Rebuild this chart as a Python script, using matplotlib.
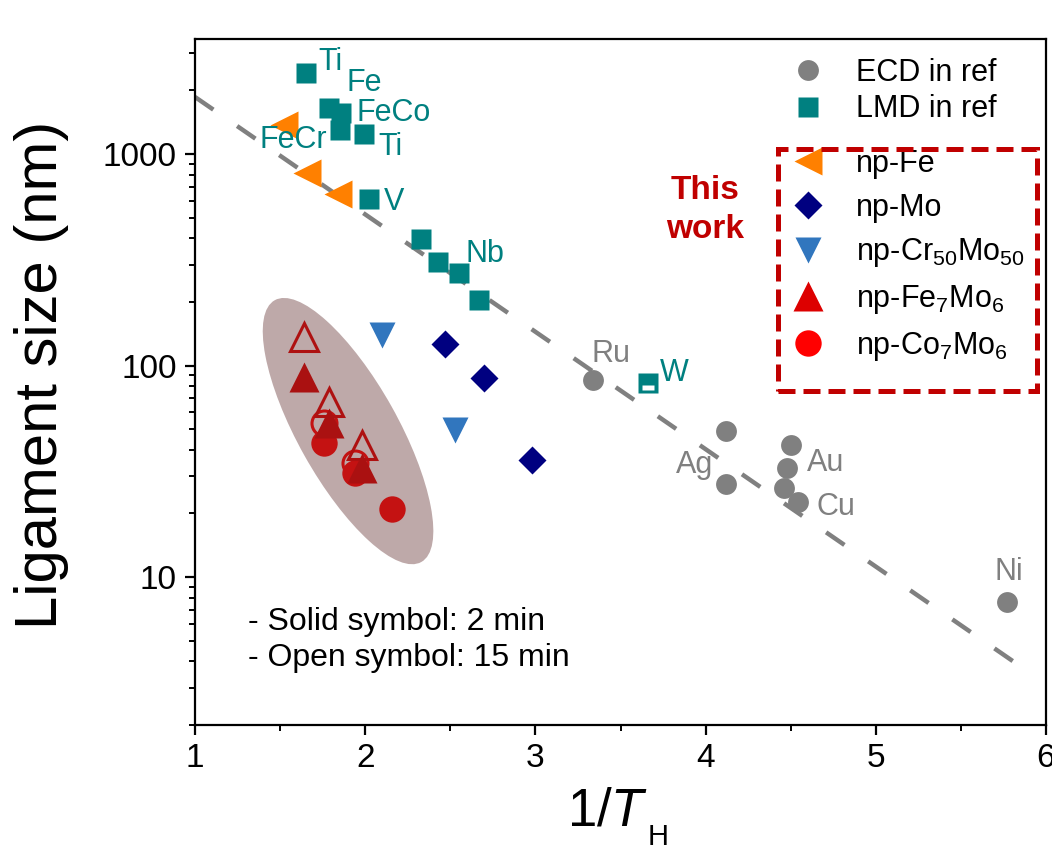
import numpy as np
import matplotlib
matplotlib.use('Agg')
import matplotlib.pyplot as plt
from matplotlib.lines import Line2D
from matplotlib.patches import Ellipse, Rectangle
from matplotlib.path import Path
from matplotlib.transforms import ScaledTranslation
from matplotlib.ticker import LogLocator, NullFormatter, MultipleLocator

plt.rcParams['font.family'] = ['Liberation Sans', 'DejaVu Sans']
plt.rcParams['mathtext.fontset'] = 'custom'
plt.rcParams['mathtext.rm'] = 'Liberation Sans'
plt.rcParams['mathtext.it'] = 'Liberation Sans:italic'

# ECD in ref (grey circles)
ecd_x = [3.34, 4.12, 4.12, 4.50, 4.48, 4.46, 4.54, 5.77]
ecd_y = [85, 49, 27.5, 42, 32.7, 26.4, 22.7, 7.6]
ecd_labels = [(0, 'Ru', (-1, 19), 'left'), (2, 'Ag', (-9, 14), 'right'),
              (4, 'Au', (14, 4), 'left'), (6, 'Cu', (14, -4), 'left'),
              (7, 'Ni', (-9, 22), 'left')]

# LMD in ref (teal squares)
lmd_x = [1.65, 1.79, 1.86, 1.85, 1.99, 2.02, 2.33, 2.43, 2.55, 2.67, 3.66]
lmd_y = [2415, 1650, 1563, 1298, 1243, 613, 396, 308, 274, 204, 82.6]
lmd_labels = [(0, 'Ti', (9, 8), 'left'), (1, 'Fe', (12, 18), 'left'),
              (2, 'FeCo', (11, 0), 'left'), (3, 'FeCr', (-9, -7), 'right'),
              (4, 'Ti', (11, -9), 'left'), (5, 'V', (11, -2), 'left'),
              (8, 'Nb', (5, 14), 'left'), (10, 'W', (9, 7), 'left')]

# this work
fe_x = [1.52, 1.66, 1.84]
fe_y = [1371, 813, 647]
mo_x = [2.47, 2.70, 2.98]
mo_y = [126, 87.4, 35.8]
crmo_x = [2.10, 2.53]
crmo_y = [139, 49.6]
femo_x = [1.64, 1.79, 1.98]
femo_2min = [88.3, 53.5, 32.7]
femo_15min = [136, 67, 42]
como_x = [1.76, 1.94, 2.16]
como_2min = [43, 31, 21]
como_open_x = [1.76, 1.94]
como_15min = [53.5, 34.6]

# guide line
fit_x = [1.0, 5.9]
fit_y = [1860, 3.55]

teal = '#008080'
grey = '#808080'
darkred = '#C00000'

fig = plt.figure(figsize=(10.52, 8.5), dpi=100)
ax = fig.add_axes([0.1854, 0.1471, 0.8089, 0.8071])
ax.set_yscale('log')
ax.set_xlim(1, 6)
ax.set_ylim(2, 3500)

# shaded ellipse around the Fe7Mo6 / Co7Mo6 data
ell = Ellipse((0, 0), 3.0, 1.0, angle=-60.75, facecolor='#BEA9A9', edgecolor='none',
              transform=fig.dpi_scale_trans + ScaledTranslation(1.899, 49, ax.transData),
              zorder=1)
ax.add_patch(ell)

ax.plot(fit_x, fit_y, color=grey, lw=3.2, dashes=(5, 6.5), zorder=2)

ax.plot(ecd_x, ecd_y, 'o', color=grey, ms=15, mec='none', zorder=3)
ax.plot(lmd_x, lmd_y, 's', color=teal, ms=14, mec='none', zorder=3)
# W point has a white bar inside
bar = Path([(0.5, 0.5), (-0.33, -0.38), (0.33, -0.38), (0.33, -0.1), (-0.33, -0.1), (-0.33, -0.38)],
           [Path.MOVETO, Path.MOVETO, Path.LINETO, Path.LINETO, Path.LINETO, Path.CLOSEPOLY])
ax.plot(lmd_x[-1:], lmd_y[-1:], marker=bar, color='white', ms=14, mec='none', ls='none', zorder=4)

ax.plot(fe_x, fe_y, '<', color='#FF8000', ms=20, mec='none', zorder=3)
ax.plot(mo_x, mo_y, 'D', color='#000080', ms=14, mec='none', zorder=3)
ax.plot(crmo_x, crmo_y, 'v', color='#3176BE', ms=19, mec='none', zorder=3)

ax.plot(como_open_x, como_15min, 'o', mfc='none', mec='#C41212', mew=2.2, ms=18, zorder=3)
ax.plot(como_x, como_2min, 'o', color='#C41212', ms=19, mec='none', zorder=3)
ax.plot(femo_x, femo_15min, '^', mfc='none', mec='#AE1111', mew=2.2, ms=20, zorder=4)
ax.plot(femo_x, femo_2min, '^', color='#AA1111', ms=22, mec='none', zorder=4)

for i, name, off, ha in lmd_labels:
    ax.annotate(name, (lmd_x[i], lmd_y[i]), xytext=off, textcoords='offset points',
                ha=ha, va='center', fontsize=22, color=teal, zorder=5)
for i, name, off, ha in ecd_labels:
    ax.annotate(name, (ecd_x[i], ecd_y[i]), xytext=off, textcoords='offset points',
                ha=ha, va='center', fontsize=22, color=grey, zorder=5)

# legends
h_ref = [Line2D([], [], marker='o', color=grey, ms=15, ls='none', mec='none'),
         Line2D([], [], marker='s', color=teal, ms=14, ls='none', mec='none')]
leg1 = ax.legend(h_ref, ['ECD in ref', 'LMD in ref'], loc='upper left',
                 bbox_to_anchor=(0.7027, 0.972), frameon=False, fontsize=22,
                 handlelength=1.0, handletextpad=1.05, labelspacing=0.2,
                 borderpad=0, borderaxespad=0)
ax.add_artist(leg1)

h_this = [Line2D([], [], marker='<', color='#FF8000', ms=20, ls='none', mec='none'),
          Line2D([], [], marker='D', color='#000080', ms=14, ls='none', mec='none'),
          Line2D([], [], marker='v', color='#3176BE', ms=19, ls='none', mec='none'),
          Line2D([], [], marker='^', color='#DD0000', ms=22, ls='none', mec='none'),
          Line2D([], [], marker='o', color='#FF0000', ms=19, ls='none', mec='none')]
lab_this = ['np-Fe', 'np-Mo', r'np-Cr$_{\mathregular{50}}$Mo$_{\mathregular{50}}$',
            r'np-Fe$_{\mathregular{7}}$Mo$_{\mathregular{6}}$',
            r'np-Co$_{\mathregular{7}}$Mo$_{\mathregular{6}}$']
leg2 = ax.legend(h_this, lab_this, loc='upper left', bbox_to_anchor=(0.7027, 0.8397),
                 frameon=False, fontsize=22, handlelength=1.0, handletextpad=1.05,
                 labelspacing=0.45, borderpad=0, borderaxespad=0)
ax.add_patch(Rectangle((0.685, 0.487), 0.3045, 0.353, transform=ax.transAxes, fill=False,
                       ec=darkred, lw=3.6, ls=(0, (3.4, 1.6)), clip_on=False, zorder=6))

ax.text(0.599, 0.751, 'This\nwork', transform=ax.transAxes, ha='center', va='center',
        fontsize=24, fontweight='bold', color=darkred, linespacing=1.35)
ax.text(0.0623, 0.124, '- Solid symbol: 2 min\n- Open symbol: 15 min', transform=ax.transAxes,
        ha='left', va='center', fontsize=23, linespacing=1.28)

ax.set_yticks([10, 100, 1000])
ax.set_yticklabels(['10', '100', '1000'])
ax.yaxis.set_minor_locator(LogLocator(base=10, subs=np.arange(2, 10)))
ax.yaxis.set_minor_formatter(NullFormatter())
ax.xaxis.set_major_locator(MultipleLocator(1))
ax.xaxis.set_minor_locator(MultipleLocator(0.5))

ax.tick_params(which='major', direction='out', length=7, width=1.6, labelsize=24, pad=6)
ax.tick_params(which='minor', direction='out', length=4, width=1.4)
for sp in ax.spines.values():
    sp.set_linewidth(1.6)

ax.set_ylabel('Ligament size (nm)', fontsize=43)
ax.yaxis.set_label_coords(-0.148, 0.51)
# x label: Origin puts the subscript H well below the baseline
ax.set_xlabel(r'1/$\mathit{T}$', fontsize=38)
ax.xaxis.set_label_coords(0.4853, -0.089)
ax.text(0.532, -0.175, 'H', transform=ax.transAxes, ha='left', va='baseline', fontsize=21)

fig.savefig('out.png', dpi=100)
